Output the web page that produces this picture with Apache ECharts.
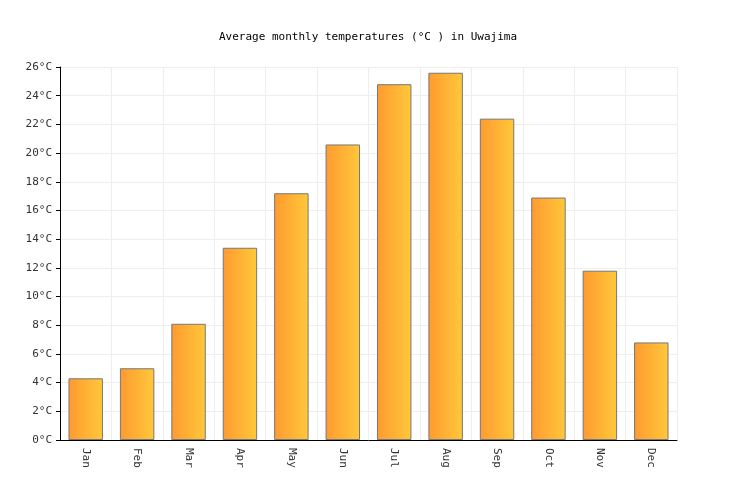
<!DOCTYPE html>
<html><head><meta charset="utf-8">
<script src="https://cdn.jsdelivr.net/npm/echarts@6/dist/echarts.min.js"></script>
<style>html,body{margin:0;padding:0;background:#fff}#c{width:736px;height:500px}</style>
</head><body><div id="c"></div>
<script>
const categories = ["Jan","Feb","Mar","Apr","May","Jun","Jul","Aug","Sep","Oct","Nov","Dec"];
const temps = [4.3,5.0,8.1,13.4,17.2,20.6,24.8,25.6,22.4,16.9,11.8,6.8];
const chart = echarts.init(document.getElementById('c'));
const font = "DejaVu Sans Mono";
chart.setOption({
  animation:false,
  title:{text:"Average monthly temperatures (°C ) in Uwajima",left:'center',top:27,
    textStyle:{fontFamily:font,fontSize:11,fontWeight:'normal',color:'#000'}},
  grid:{left:60,right:59,top:67,bottom:60},
  xAxis:{type:'category',data:categories,
    axisLine:{lineStyle:{color:'#000'}},axisTick:{show:false},
    axisLabel:{rotate:-90,fontFamily:font,fontSize:11,color:'#333',margin:8},
    splitLine:{show:true,lineStyle:{color:'#eee'}}},
  yAxis:{type:'value',min:0,max:26,interval:2,
    axisLine:{show:true,lineStyle:{color:'#000'}},axisTick:{show:true,length:4,lineStyle:{color:'#000'}},
    axisLabel:{formatter:'{value}°C',fontFamily:font,fontSize:11,color:'#333'},
    splitLine:{lineStyle:{color:'#eee'}}},
  series:[{type:'bar',data:temps,barCategoryGap:'33%',
    itemStyle:{borderColor:'#777',borderWidth:1,
      color:new echarts.graphic.LinearGradient(0,0,1,0,[{offset:0,color:'#ff9a30'},{offset:1,color:'#ffc83a'}])}}]
});
</script></body></html>
